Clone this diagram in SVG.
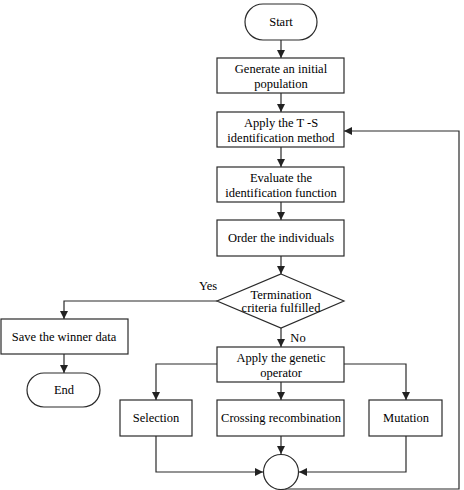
<svg xmlns="http://www.w3.org/2000/svg" width="464" height="490" viewBox="0 0 464 490">
<defs>
<marker id="ah" viewBox="0 0 10 10" refX="10" refY="5" markerWidth="8" markerHeight="8" markerUnits="userSpaceOnUse" orient="auto">
<path d="M0,0 L10,5 L0,10 z" fill="#222"/>
</marker>
<style>
.b{fill:#fff;stroke:#2a2a2a;stroke-width:1.2}
.t{font-family:"Liberation Serif","Times New Roman",serif;font-size:12.5px;fill:#000;text-anchor:middle}
.c{fill:none;stroke:#2a2a2a;stroke-width:1.2;marker-end:url(#ah)}
</style>
</defs>
<rect width="464" height="490" fill="#fff"/>
<g id="connectors">
<path class="c" d="M281,40 V58"/>
<path class="c" d="M281,93 V112"/>
<path class="c" d="M281,147 V167"/>
<path class="c" d="M281,202 V220"/>
<path class="c" d="M281,256 V274"/>
<path class="c" d="M217,301 H64 V319"/>
<path class="c" d="M64,354 V373"/>
<path class="c" d="M281,328 V347"/>
<path class="c" d="M217,364 H156 V400"/>
<path class="c" d="M344,364 H406 V400"/>
<path class="c" d="M281,382 V400"/>
<path class="c" d="M156,436 V472 H263"/>
<path class="c" d="M406,436 V472 H299"/>
<path class="c" d="M281,436 V454"/>
<path class="c" d="M281,489 H459 V131 H344"/>
</g>
<g id="start"><rect class="b" x="245" y="4" width="72" height="36" rx="18"/><text class="t" x="281" y="26">Start</text></g>
<g id="generate"><rect class="b" x="217" y="58" width="127" height="35"/><text class="t" x="281" y="73">Generate an initial</text><text class="t" x="281" y="88">population</text></g>
<g id="apply-ts"><rect class="b" x="217" y="112" width="127" height="35"/><text class="t" x="281" y="127">Apply the T -S</text><text class="t" x="281" y="142">identification method</text></g>
<g id="evaluate"><rect class="b" x="217" y="167" width="127" height="35"/><text class="t" x="281" y="182">Evaluate the</text><text class="t" x="281" y="197">identification function</text></g>
<g id="order"><rect class="b" x="217" y="220" width="127" height="36"/><text class="t" x="281" y="242">Order the individuals</text></g>
<g id="termination"><polygon class="b" points="281,274 344,301 281,328 217,301"/><text class="t" x="281" y="299">Termination</text><text class="t" x="281" y="312">criteria fulfilled</text></g>
<g id="yes-label"><text class="t" x="208" y="290">Yes</text></g>
<g id="no-label"><text class="t" x="298" y="342">No</text></g>
<g id="save"><rect class="b" x="1" y="319" width="127" height="35"/><text class="t" x="64" y="341">Save the winner data</text></g>
<g id="end"><rect class="b" x="27" y="373" width="73" height="34" rx="17"/><text class="t" x="64" y="394">End</text></g>
<g id="genetic"><rect class="b" x="217" y="347" width="127" height="35"/><text class="t" x="281" y="362">Apply the genetic</text><text class="t" x="281" y="377">operator</text></g>
<g id="selection"><rect class="b" x="120" y="400" width="72" height="36"/><text class="t" x="156" y="422">Selection</text></g>
<g id="crossing"><rect class="b" x="217" y="400" width="127" height="36"/><text class="t" x="281" y="422">Crossing recombination</text></g>
<g id="mutation"><rect class="b" x="369" y="400" width="73" height="36"/><text class="t" x="406" y="422">Mutation</text></g>
<g id="junction"><circle class="b" cx="281" cy="472" r="17.5"/></g>
</svg>
